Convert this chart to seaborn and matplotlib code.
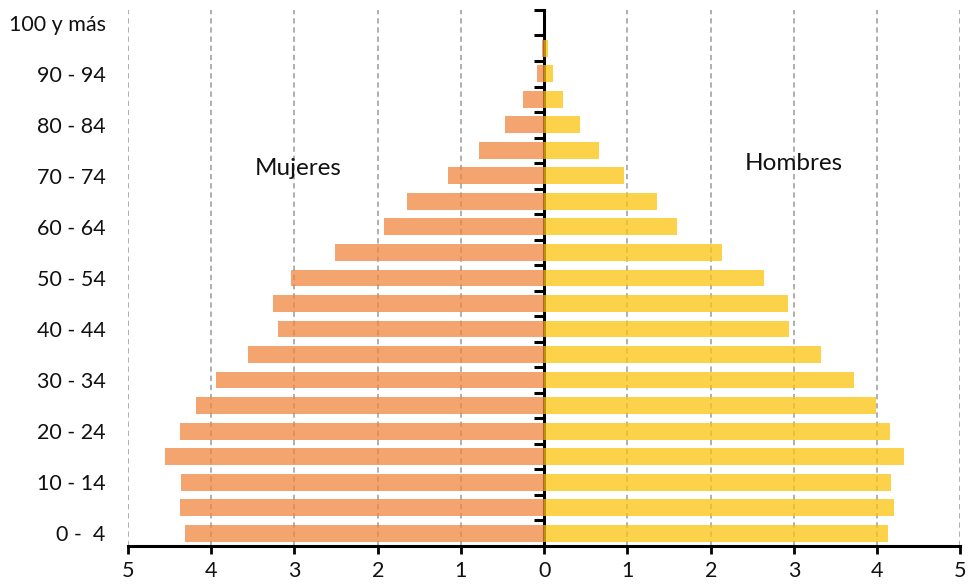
import matplotlib
matplotlib.use("Agg")
import matplotlib.pyplot as plt
import seaborn as sns
import pandas as pd

# Age groups from youngest to oldest
age_groups = ["0 - 4", "5 - 9", "10 - 14", "15 - 19", "20 - 24", "25 - 29",
              "30 - 34", "35 - 39", "40 - 44", "45 - 49", "50 - 54", "55 - 59",
              "60 - 64", "65 - 69", "70 - 74", "75 - 79", "80 - 84", "85 - 89",
              "90 - 94", "95 - 99", "100 y más"]

# Share of total population (%) per age group
mujeres = [4.31, 4.38, 4.36, 4.55, 4.38, 4.18, 3.94, 3.56, 3.20, 3.26, 3.04,
           2.51, 1.92, 1.65, 1.16, 0.78, 0.47, 0.25, 0.09, 0.03, 0.0]
hombres = [4.13, 4.20, 4.16, 4.32, 4.15, 3.98, 3.72, 3.32, 2.94, 2.93, 2.64,
           2.13, 1.60, 1.36, 0.96, 0.66, 0.43, 0.23, 0.10, 0.04, 0.0]

# Labelled age groups on the vertical axis (every other group)
tick_labels = ["0 -  4", "10 - 14", "20 - 24", "30 - 34", "40 - 44", "50 - 54",
               "60 - 64", "70 - 74", "80 - 84", "90 - 94", "100 y más"]
x_ticks = [-5, -4, -3, -2, -1, 0, 1, 2, 3, 4, 5]

order = age_groups[::-1]  # oldest at the top

df = pd.concat([
    pd.DataFrame({"edad": age_groups, "valor": [-v for v in mujeres], "sexo": "Mujeres"}),
    pd.DataFrame({"edad": age_groups, "valor": hombres, "sexo": "Hombres"}),
])

sns.set_theme(style="white")
plt.rcParams["font.family"] = ["Lato", "DejaVu Sans"]

fig = plt.figure(figsize=(9.68, 5.85), dpi=100)
ax = fig.add_axes([0.1322, 0.0667, 0.8600, 0.9163])

sns.barplot(data=df, x="valor", y="edad", hue="sexo", order=order,
            palette={"Mujeres": "#EF863F", "Hombres": "#FCC30F"},
            saturation=1, dodge=False, width=0.66, alpha=0.75, linewidth=0,
            legend=False, ax=ax, zorder=2)

ax.set_xlim(-5, 5)
ax.set_ylim(len(order) - 0.5, -0.5)

# dashed vertical grid
for xv in x_ticks:
    if xv != 0:
        ax.axvline(xv, color="#9a9a9a", lw=1.1, ls=(0, (3.5, 2.5)), zorder=1)

# x axis
ax.set_xticks(x_ticks)
ax.set_xticklabels([str(abs(v)) for v in x_ticks], fontsize=15.5)
ax.tick_params(axis="x", direction="out", length=6, width=2, color="black",
               pad=5, bottom=True)
ax.set_xlabel("")

# y labels on the left, every other age group
label_pos = [order.index(a) for a in age_groups[::2]]
ax.set_yticks(label_pos)
ax.set_yticklabels(tick_labels, fontsize=15.5)
ax.tick_params(axis="y", length=0, pad=16)
ax.set_ylabel("")

for s in ["top", "right", "left"]:
    ax.spines[s].set_visible(False)
ax.spines["bottom"].set_color("black")
ax.spines["bottom"].set_linewidth(2.2)
ax.spines["bottom"].set_zorder(5)

# central axis with ticks between age groups, pointing left
sec = ax.secondary_yaxis(0.5)
sec.set_alignment("left")
sec.spines["left"].set_linewidth(2.2)
sec.spines["left"].set_color("black")
sec.set_yticks([i - 0.5 for i in range(len(order) + 1)])
sec.set_yticklabels([])
sec.tick_params(axis="y", direction="out", length=7, width=2.2, color="black")

ax.text(-2.96, 5.97, "Mujeres", fontsize=17.5, ha="center", va="baseline",
        color="#111111")
ax.text(3.0, 5.77, "Hombres", fontsize=17.5, ha="center", va="baseline",
        color="#111111")

for lbl in ax.get_xticklabels() + ax.get_yticklabels():
    lbl.set_color("#111111")

fig.savefig("out.png", dpi=100)
